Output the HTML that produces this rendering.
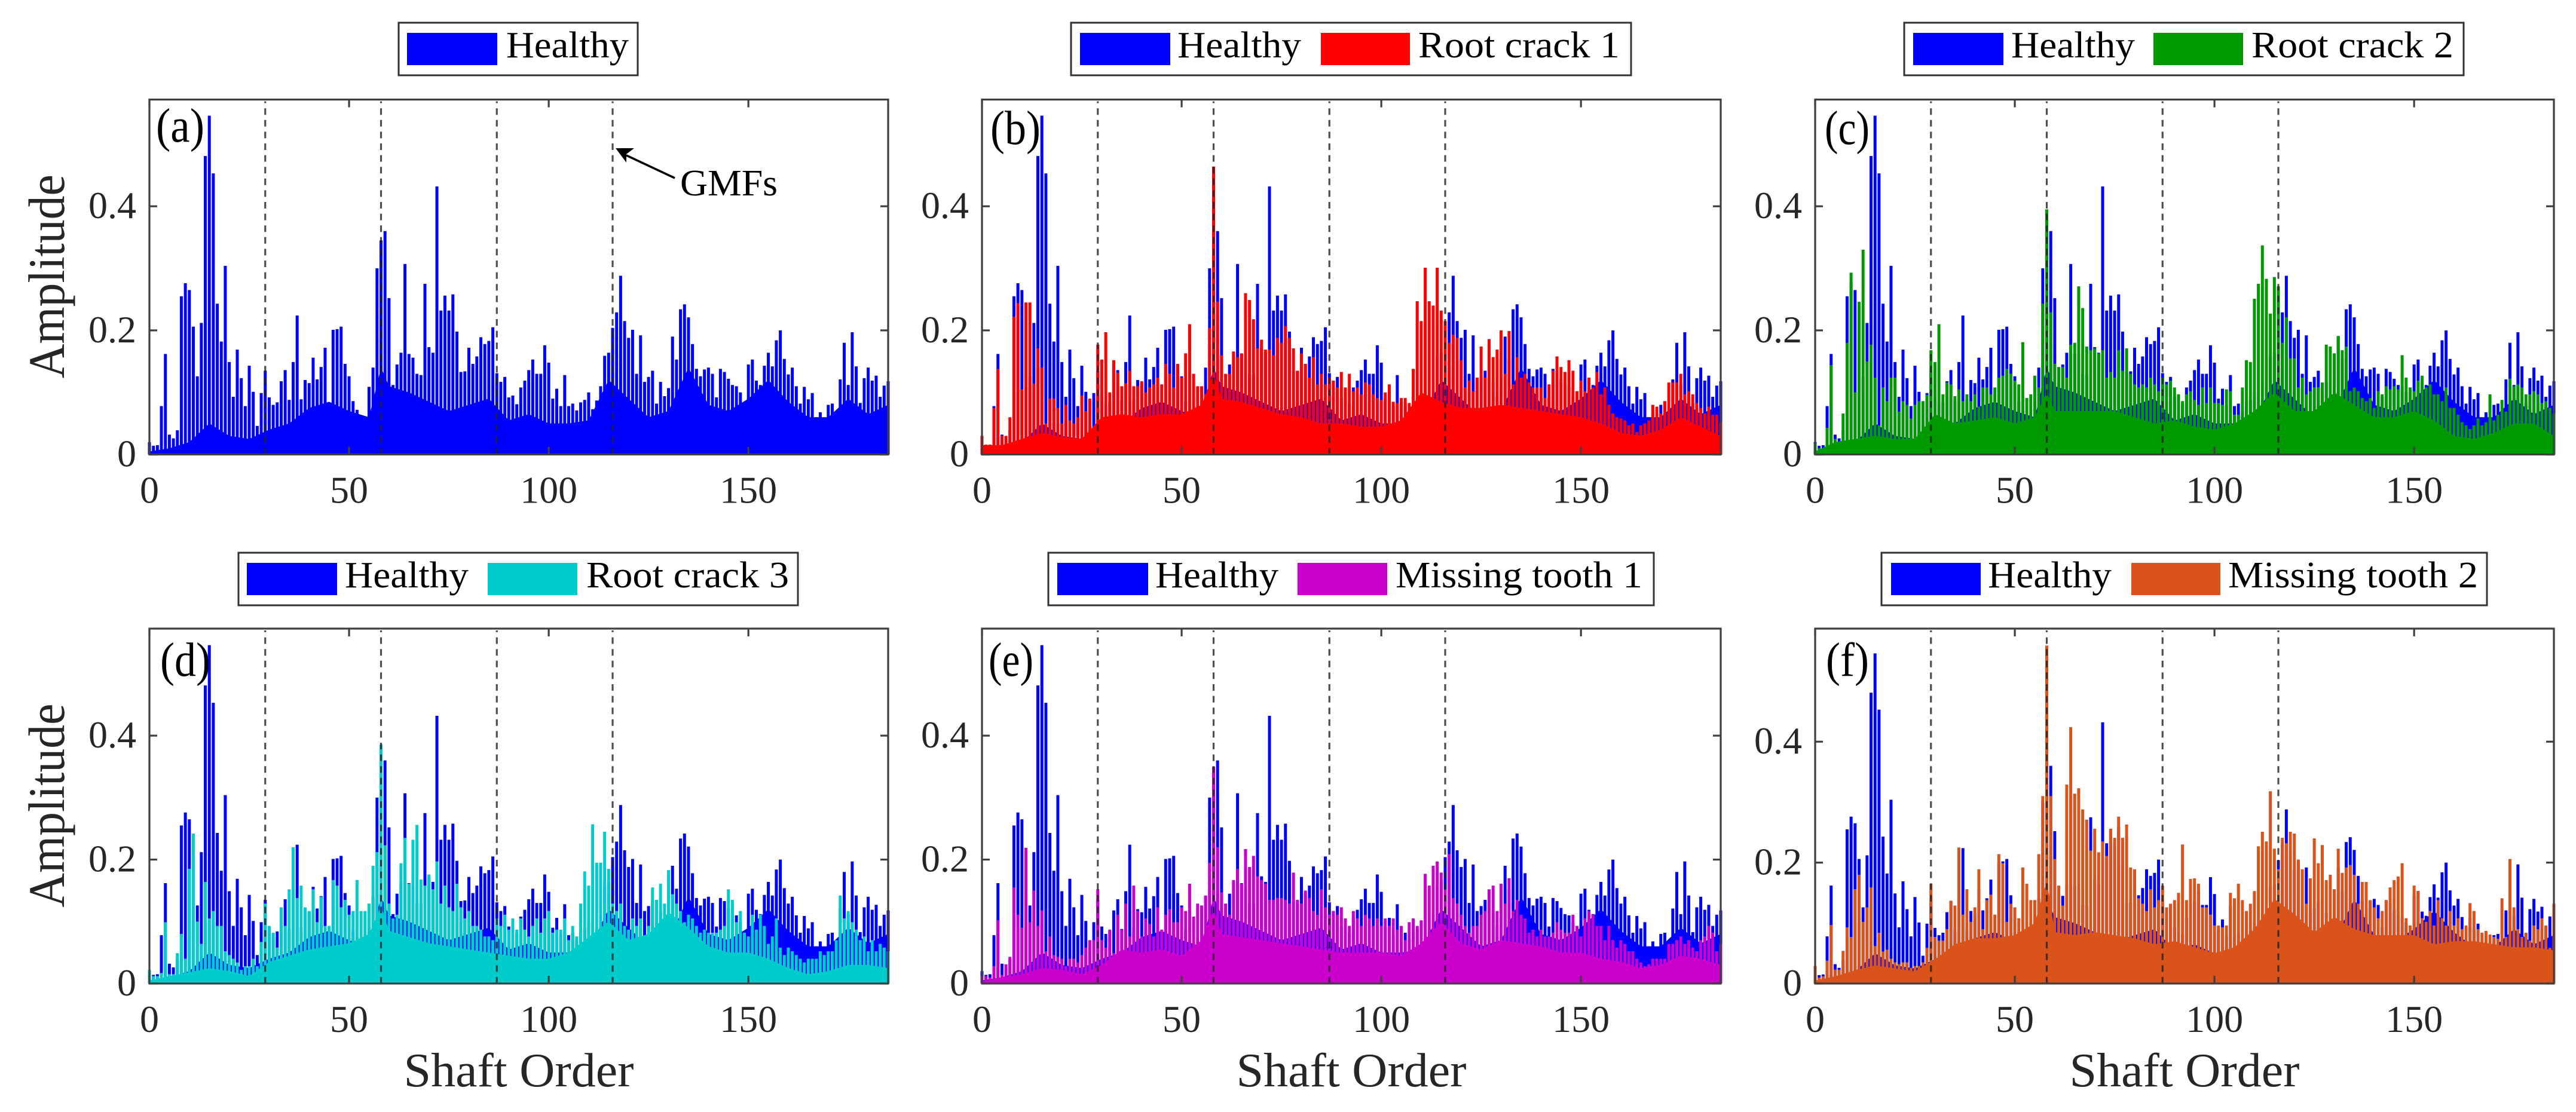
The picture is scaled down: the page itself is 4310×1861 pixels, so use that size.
<!DOCTYPE html>
<html lang="en">
<head>
<meta charset="utf-8">
<title>Spectra of healthy and faulty gears</title>
<style>
html,body{margin:0;padding:0;background:#fff;}
svg{display:block;}
text{font-family:"Liberation Serif",serif;fill:#000;}
.tick{font-size:64px;fill:#262626;}
.axis-title{font-size:80px;fill:#262626;}
.y-title{font-size:86px;fill:#262626;}
.legend-text{font-size:62px;}
.panel-letter{font-size:80px;}
</style>
</head>
<body>
<svg id="figure" xmlns="http://www.w3.org/2000/svg" width="4310" height="1861" viewBox="0 0 4310 1861">
<rect x="0" y="0" width="4310" height="1861" fill="#fff"/>
<g id="panels"></g>

<g>
<rect x="667" y="38" width="400" height="88" fill="#fff" stroke="#333" stroke-width="3"/>
<rect x="681" y="55" width="151" height="54" fill="#0000ff"/>
<text class="legend-text" x="847" y="96" textLength="205" lengthAdjust="spacingAndGlyphs">Healthy</text>
</g>
<g>
<rect x="1792" y="38" width="937" height="88" fill="#fff" stroke="#333" stroke-width="3"/>
<rect x="1807" y="55" width="151" height="54" fill="#0000ff"/>
<text class="legend-text" x="1970" y="96" textLength="207" lengthAdjust="spacingAndGlyphs">Healthy</text>
<rect x="2210" y="55" width="149" height="54" fill="#ff0000"/>
<text class="legend-text" x="2373" y="96" textLength="337" lengthAdjust="spacingAndGlyphs">Root crack 1</text>
</g>
<g>
<rect x="3186" y="38" width="936" height="88" fill="#fff" stroke="#333" stroke-width="3"/>
<rect x="3201" y="55" width="151" height="54" fill="#0000ff"/>
<text class="legend-text" x="3365" y="96" textLength="207" lengthAdjust="spacingAndGlyphs">Healthy</text>
<rect x="3603" y="55" width="150" height="54" fill="#009900"/>
<text class="legend-text" x="3767" y="96" textLength="338" lengthAdjust="spacingAndGlyphs">Root crack 2</text>
</g>
<g>
<rect x="399" y="925" width="936" height="88" fill="#fff" stroke="#333" stroke-width="3"/>
<rect x="413" y="942" width="151" height="54" fill="#0000ff"/>
<text class="legend-text" x="577" y="983" textLength="207" lengthAdjust="spacingAndGlyphs">Healthy</text>
<rect x="816" y="942" width="150" height="54" fill="#00cccc"/>
<text class="legend-text" x="981" y="983" textLength="339" lengthAdjust="spacingAndGlyphs">Root crack 3</text>
</g>
<g>
<rect x="1754" y="925" width="1013" height="88" fill="#fff" stroke="#333" stroke-width="3"/>
<rect x="1769" y="942" width="152" height="54" fill="#0000ff"/>
<text class="legend-text" x="1933" y="983" textLength="206" lengthAdjust="spacingAndGlyphs">Healthy</text>
<rect x="2171" y="942" width="150" height="54" fill="#cc00cc"/>
<text class="legend-text" x="2335" y="983" textLength="413" lengthAdjust="spacingAndGlyphs">Missing tooth 1</text>
</g>
<g>
<rect x="3148" y="925" width="1013" height="88" fill="#fff" stroke="#333" stroke-width="3"/>
<rect x="3164" y="942" width="150" height="54" fill="#0000ff"/>
<text class="legend-text" x="3326" y="983" textLength="207" lengthAdjust="spacingAndGlyphs">Healthy</text>
<rect x="3566" y="942" width="149" height="54" fill="#d9531a"/>
<text class="legend-text" x="3728" y="983" textLength="418" lengthAdjust="spacingAndGlyphs">Missing tooth 2</text>
</g>

<g>
<line x1="1129" y1="298" x2="1048" y2="260" stroke="#000" stroke-width="3.5"/>
<polygon points="1030,248 1061,248 1048,258 1048,272" fill="#000"/>
<text class="legend-text" x="1138" y="327" textLength="163" lengthAdjust="spacingAndGlyphs">GMFs</text>
</g>
</svg>

<script>
const xTicks = [0, 50, 100, 150];
const yTicks = [0, 0.2, 0.4];
const gmfOrders = [29, 58, 87, 116];
const floorOrders = [0,5,10,15,20,25,30,35,40,45,50,55,58,60,65,70,75,80,85,90,95,100,105,110,115,120,125,130,135,140,145,150,155,160,165,170,175,180,185];

const healthyPeaks = [
.02,.014,.015,.078,.162,.032,.026,.039,.255,.276,
.265,.206,.126,.212,.481,.546,.453,.243,.182,.304,
.149,.093,.169,.123,.078,.143,.101,.046,.099,.135,
.092,.08,.084,.118,.136,.088,.149,.224,.089,.12,
.115,.156,.121,.141,.172,.07,.201,.202,.206,.146,
.126,.086,.072,.051,.06,.109,.14,.3,.345,.36,
.252,.112,.145,.164,.307,.162,.156,.13,.128,.275,
.173,.164,.432,.232,.256,.232,.258,.198,.133,.134,
.172,.146,.158,.189,.178,.183,.205,.131,.117,.125,
.092,.095,.081,.108,.119,.136,.153,.13,.13,.176,
.148,.09,.106,.078,.128,.078,.082,.071,.084,.088,
.1,.073,.087,.11,.159,.164,.204,.229,.288,.215,
.188,.201,.13,.192,.117,.125,.135,.082,.117,.094,
.107,.19,.153,.234,.242,.221,.178,.138,.126,.137,
.14,.13,.092,.138,.133,.122,.112,.11,.1,.068,
.145,.153,.119,.112,.143,.164,.142,.184,.2,.154,
.129,.14,.11,.082,.109,.089,.099,.06,.068,.051,
.08,.082,.068,.121,.18,.112,.197,.142,.083,.123,
.14,.119,.127,.093,.111,.118];
const healthyFloor = [.005,.01,.02,.05,.03,.025,.04,.05,.075,.085,.07,.06,.14,.11,.1,.085,.07,.08,.09,.055,.065,.05,.05,.055,.12,.09,.06,.07,.14,.08,.07,.09,.12,.085,.06,.06,.09,.065,.08];

const rootCrack1Peaks = [
.03,.016,.016,.075,.138,.03,.03,.06,.222,.244,
.105,.245,.245,.114,.171,.14,.05,.09,.09,.075,
.05,.08,.055,.05,.06,.095,.07,.09,.045,.177,
.153,.197,.1,.152,.132,.11,.115,.135,.11,.11,
.118,.1,.108,.113,.124,.113,.146,.13,.108,.146,
.124,.163,.21,.13,.11,.11,.097,.204,.464,.246,
.16,.13,.13,.166,.157,.163,.26,.249,.218,.171,
.185,.169,.169,.16,.188,.18,.207,.188,.171,.135,
.163,.146,.124,.157,.113,.13,.113,.124,.119,.108,
.133,.108,.13,.102,.108,.097,.116,.113,.097,.091,
.088,.1,.113,.085,.083,.091,.091,.083,.138,.247,
.215,.301,.247,.24,.301,.232,.215,.18,.193,.188,
.152,.108,.119,.102,.124,.174,.124,.186,.157,.169,
.2,.13,.199,.113,.157,.124,.13,.116,.108,.108,
.108,.091,.113,.135,.158,.141,.133,.152,.135,.102,
.119,.102,.124,.108,.133,.097,.108,.08,.066,.06,
.058,.055,.047,.05,.036,.047,.05,.055,.08,.077,
.066,.086,.116,.116,.116,.13,.097,.102,.097,.083,
.075,.066,.077,.064,.064,.052];
const rootCrack1Floor = [.015,.015,.025,.035,.028,.025,.06,.065,.06,.065,.065,.08,.13,.09,.085,.075,.065,.06,.05,.05,.045,.045,.055,.1,.085,.075,.075,.08,.075,.07,.065,.06,.05,.035,.03,.04,.06,.045,.03];

const rootCrack2Peaks = [
.018,.01,.008,.043,.144,.025,.01,.066,.18,.293,
.1,.246,.33,.15,.177,.124,.047,.108,.086,.124,
.124,.069,.086,.08,.058,.08,.086,.086,.096,.168,
.149,.21,.097,.116,.113,.094,.105,.086,.097,.086,
.097,.077,.108,.108,.097,.108,.124,.127,.138,.13,
.119,.113,.181,.091,.097,.127,.108,.243,.395,.229,
.146,.141,.141,.124,.177,.18,.271,.236,.174,.168,
.171,.163,.168,.124,.133,.124,.168,.135,.171,.13,
.113,.108,.113,.108,.124,.113,.102,.124,.113,.119,
.108,.097,.086,.097,.102,.088,.08,.108,.083,.108,
.083,.083,.08,.105,.102,.064,.064,.108,.152,.149,
.251,.275,.337,.283,.227,.286,.271,.18,.221,.155,
.155,.108,.124,.097,.102,.108,.108,.116,.177,.174,
.163,.191,.168,.174,.102,.108,.102,.091,.086,.091,
.075,.102,.097,.11,.105,.11,.105,.16,.124,.108,
.102,.119,.127,.108,.113,.097,.097,.086,.108,.075,
.075,.064,.052,.047,.041,.047,.058,.047,.052,.097,
.055,.064,.088,.069,.122,.11,.113,.108,.097,.097,
.102,.097,.083,.086,.075,.066];
const rootCrack2Floor = [.005,.02,.025,.03,.025,.025,.065,.05,.055,.06,.05,.06,.1,.07,.07,.07,.07,.06,.05,.055,.045,.04,.05,.07,.1,.07,.07,.1,.08,.06,.06,.07,.055,.03,.025,.035,.05,.05,.03];

const rootCrack3Peaks = [
.022,.012,.012,.017,.099,.015,.015,.049,.08,.04,
.185,.242,.1,.064,.164,.105,.117,.093,.093,.052,
.046,.04,.034,.022,.028,.028,.04,.028,.067,.129,
.093,.082,.058,.123,.093,.152,.22,.138,.158,.123,
.117,.152,.099,.14,.093,.093,.167,.158,.123,.135,
.111,.117,.167,.117,.117,.129,.19,.212,.386,.223,
.129,.105,.111,.194,.235,.161,.232,.256,.168,.158,
.176,.152,.197,.129,.158,.123,.117,.161,.123,.105,
.117,.093,.093,.087,.076,.076,.07,.105,.093,.111,
.087,.105,.087,.105,.087,.076,.093,.105,.082,.105,
.117,.082,.087,.087,.105,.07,.093,.076,.129,.181,
.158,.257,.195,.195,.245,.185,.129,.117,.129,.093,
.087,.105,.093,.105,.07,.093,.155,.135,.161,.129,
.183,.144,.129,.117,.099,.111,.105,.093,.082,.087,
.082,.082,.082,.087,.093,.152,.135,.099,.117,.082,
.076,.111,.087,.111,.093,.064,.076,.105,.058,.046,
.058,.052,.046,.04,.034,.04,.04,.04,.052,.046,
.052,.052,.07,.142,.105,.117,.099,.087,.07,.076,
.052,.07,.052,.064,.058,.052];
const rootCrack3Floor = [.005,.012,.018,.025,.02,.012,.035,.045,.055,.06,.065,.08,.125,.085,.075,.065,.06,.055,.05,.045,.04,.04,.05,.075,.1,.07,.08,.115,.09,.06,.05,.05,.04,.025,.015,.02,.03,.03,.025];

const missingTooth1Peaks = [
.012,.012,.01,.028,.102,.014,.031,.043,.155,.111,
.09,.219,.099,.15,.093,.118,.052,.076,.046,.043,
.04,.028,.04,.04,.034,.046,.058,.07,.07,.152,
.07,.058,.087,.049,.111,.087,.129,.076,.158,.117,
.076,.105,.096,.076,.123,.087,.111,.12,.099,.099,
.123,.117,.161,.108,.129,.126,.142,.195,.35,.22,
.147,.129,.111,.167,.185,.161,.217,.188,.206,.173,
.167,.161,.135,.135,.138,.138,.135,.129,.179,.135,
.129,.15,.138,.117,.111,.152,.123,.111,.117,.111,
.123,.105,.093,.117,.105,.093,.111,.105,.093,.105,
.093,.105,.093,.105,.087,.093,.07,.099,.105,.093,
.102,.177,.158,.19,.197,.179,.152,.209,.138,.129,
.111,.093,.082,.093,.093,.111,.117,.152,.158,.117,
.161,.129,.17,.117,.135,.111,.105,.082,.087,.076,
.087,.076,.076,.082,.099,.087,.082,.082,.111,.093,
.076,.105,.117,.111,.093,.093,.07,.093,.07,.058,
.07,.064,.052,.052,.04,.034,.028,.031,.04,.04,
.04,.04,.064,.064,.07,.076,.064,.07,.058,.052,
.07,.076,.093,.082,.052,.064];
const missingTooth1Floor = [.003,.01,.015,.025,.022,.015,.03,.055,.05,.055,.045,.07,.12,.08,.075,.07,.065,.06,.055,.05,.05,.05,.045,.065,.1,.065,.055,.07,.065,.06,.05,.05,.04,.035,.025,.03,.045,.04,.03];

const missingTooth2Peaks = [
.029,.01,.012,.038,.097,.023,.023,.054,.093,.077,
.156,.18,.102,.126,.159,.062,.084,.053,.056,.041,
.035,.032,.035,.035,.026,.029,.029,.035,.059,.165,
.077,.071,.071,.09,.137,.129,.225,.114,.156,.102,
.126,.189,.09,.138,.147,.114,.214,.199,.102,.132,
.126,.108,.192,.165,.138,.138,.214,.31,.559,.31,
.206,.162,.129,.329,.424,.314,.323,.288,.271,.22,
.256,.217,.235,.211,.256,.241,.276,.241,.263,.192,
.189,.141,.132,.12,.156,.126,.138,.162,.126,.132,
.138,.15,.23,.138,.173,.174,.165,.126,.126,.114,
.096,.096,.093,.096,.15,.141,.165,.138,.12,.132,
.153,.227,.251,.235,.318,.223,.189,.241,.232,.251,
.248,.205,.189,.132,.174,.24,.199,.229,.171,.18,
.156,.223,.183,.192,.196,.18,.132,.168,.168,.138,
.126,.108,.12,.138,.159,.171,.177,.199,.108,.096,
.162,.153,.108,.102,.12,.096,.138,.108,.096,.12,
.096,.108,.09,.096,.133,.12,.09,.084,.087,.081,
.077,.074,.141,.077,.206,.126,.09,.077,.084,.071,
.096,.09,.108,.096,.059,.132];
const missingTooth2Floor = [.005,.012,.022,.03,.025,.02,.04,.065,.075,.075,.08,.1,.17,.085,.08,.085,.08,.075,.065,.07,.06,.05,.06,.09,.14,.115,.085,.11,.09,.08,.08,.08,.065,.07,.07,.065,.06,.06,.055];

const xMax = 185;
const plotWidth = 1236;
const plotHeight = 594;
const stemWidth = 5;
const blue = '#0000ff';
const NS = 'http://www.w3.org/2000/svg';

const panels = [
  {key:'a', letter:'(a)', left:250,  bottom:760.6, yMax:.572, overlay:null,               floor:null,               color:null,      ylabel:true,  xlabel:false, lx:261,  lw:81, lb:237},
  {key:'b', letter:'(b)', left:1643, bottom:760.6, yMax:.572, overlay:rootCrack1Peaks,    floor:rootCrack1Floor,    color:'#ff0000', ylabel:false, xlabel:false, lx:1657, lw:84, lb:241},
  {key:'c', letter:'(c)', left:3037, bottom:760.6, yMax:.572, overlay:rootCrack2Peaks,    floor:rootCrack2Floor,    color:'#009900', ylabel:false, xlabel:false, lx:3053, lw:75, lb:241},
  {key:'d', letter:'(d)', left:250,  bottom:1646,  yMax:.5727, overlay:rootCrack3Peaks,   floor:rootCrack3Floor,    color:'#00cccc', ylabel:true,  xlabel:true,  lx:268,  lw:84, lb:1131},
  {key:'e', letter:'(e)', left:1643, bottom:1646,  yMax:.5727, overlay:missingTooth1Peaks,floor:missingTooth1Floor, color:'#cc00cc', ylabel:false, xlabel:true,  lx:1654, lw:75, lb:1131},
  {key:'f', letter:'(f)', left:3037, bottom:1646,  yMax:.587, overlay:missingTooth2Peaks, floor:missingTooth2Floor, color:'#d9531a', ylabel:false, xlabel:true,  lx:3055, lw:72, lb:1131}
];

function xScale(p, order) { return p.left + order / xMax * plotWidth; }
function yScale(p, value) { return p.bottom - value / p.yMax * plotHeight; }

function svgEl(tag, parent) {
  const el = document.createElementNS(NS, tag);
  parent.appendChild(el);
  return el;
}

function drawSeries(group, p, peaks, floor, color, name) {
  const fill = svgEl('polygon', group);
  
  
  const pts = [xScale(p, floorOrders[0]) + ',' + p.bottom];
  floorOrders.forEach(function (o, i) {
    pts.push(xScale(p, o) + ',' + yScale(p, floor[i]));
  });
  pts.push(xScale(p, floorOrders[floorOrders.length - 1]) + ',' + p.bottom);
  fill.setAttribute('points', pts.join(' '));
  fill.setAttribute('fill', color);
  peaks.forEach(function (v, i) {
    const bar = svgEl('rect', group);
    
    
    const top = yScale(p, v);
    bar.setAttribute('x', xScale(p, i) - stemWidth / 2);
    bar.setAttribute('y', top);
    bar.setAttribute('width', stemWidth);
    bar.setAttribute('height', p.bottom - top);
    bar.setAttribute('fill', color);
  });
}

function drawPanel(p) {
  const root = document.getElementById('panels');
  const g = svgEl('g', root);
  
  
  const top = p.bottom - plotHeight;
  const right = p.left + plotWidth;

  drawSeries(g, p, healthyPeaks, healthyFloor, blue, 'healthy-series');
  if (p.overlay) {
    drawSeries(g, p, p.overlay, p.floor, p.color, 'fault-series');
  }

  gmfOrders.forEach(function (o) {
    const line = svgEl('line', g);
    
    
    line.setAttribute('x1', xScale(p, o));
    line.setAttribute('x2', xScale(p, o));
    line.setAttribute('y1', p.bottom);
    line.setAttribute('y2', top + 3);
    line.setAttribute('stroke', '#222');
    line.setAttribute('stroke-opacity', '0.8');
    line.setAttribute('stroke-width', '3.2');
    line.setAttribute('stroke-dasharray', '11 8.6');
  });

  const frame = svgEl('rect', g);
  
  
  frame.setAttribute('x', p.left);
  frame.setAttribute('y', top);
  frame.setAttribute('width', plotWidth);
  frame.setAttribute('height', plotHeight);
  frame.setAttribute('fill', 'none');
  frame.setAttribute('stroke', '#404040');
  frame.setAttribute('stroke-width', '3.2');

  xTicks.forEach(function (t) {
    const x = xScale(p, t);
    [[p.bottom, p.bottom - 13], [top, top + 13]].forEach(function (ends) {
      const tick = svgEl('line', g);
      
      
      tick.setAttribute('x1', x);
      tick.setAttribute('x2', x);
      tick.setAttribute('y1', ends[0]);
      tick.setAttribute('y2', ends[1]);
      tick.setAttribute('stroke', '#404040');
      tick.setAttribute('stroke-width', '3.2');
    });
    const label = svgEl('text', g);
    
    
    label.setAttribute('class', 'tick');
    label.setAttribute('x', x);
    label.setAttribute('y', p.bottom + 81);
    label.setAttribute('text-anchor', 'middle');
    label.textContent = String(t);
  });

  yTicks.forEach(function (t) {
    const y = yScale(p, t);
    [[p.left, p.left + 13], [right, right - 13]].forEach(function (ends) {
      const tick = svgEl('line', g);
      
      
      tick.setAttribute('x1', ends[0]);
      tick.setAttribute('x2', ends[1]);
      tick.setAttribute('y1', y);
      tick.setAttribute('y2', y);
      tick.setAttribute('stroke', '#404040');
      tick.setAttribute('stroke-width', '3.2');
    });
    const label = svgEl('text', g);
    
    
    label.setAttribute('class', 'tick');
    label.setAttribute('x', p.left - 22);
    label.setAttribute('y', y + 20);
    label.setAttribute('text-anchor', 'end');
    label.textContent = String(t);
  });

  const letter = svgEl('text', g);
  
  
  letter.setAttribute('class', 'panel-letter');
  letter.setAttribute('x', p.lx);
  letter.setAttribute('y', p.lb);
  letter.setAttribute('textLength', p.lw);
  letter.setAttribute('lengthAdjust', 'spacingAndGlyphs');
  letter.textContent = p.letter;

  if (p.ylabel) {
    const yTitle = svgEl('text', g);
    
    
    yTitle.setAttribute('class', 'y-title');
    yTitle.setAttribute('text-anchor', 'middle');
    yTitle.setAttribute('transform', 'translate(107,' + (p.bottom - plotHeight / 2 - 1) + ') rotate(-90)');
    yTitle.setAttribute('textLength', '341');
    yTitle.setAttribute('lengthAdjust', 'spacingAndGlyphs');
    yTitle.textContent = 'Amplitude';
  }
  if (p.xlabel) {
    const xTitle = svgEl('text', g);
    
    
    xTitle.setAttribute('class', 'axis-title');
    xTitle.setAttribute('text-anchor', 'middle');
    xTitle.setAttribute('x', p.left + plotWidth / 2);
    xTitle.setAttribute('y', p.bottom + 172);
    xTitle.setAttribute('textLength', '385');
    xTitle.setAttribute('lengthAdjust', 'spacingAndGlyphs');
    xTitle.textContent = 'Shaft Order';
  }
}

panels.forEach(drawPanel);
</script>
</body>
</html>
